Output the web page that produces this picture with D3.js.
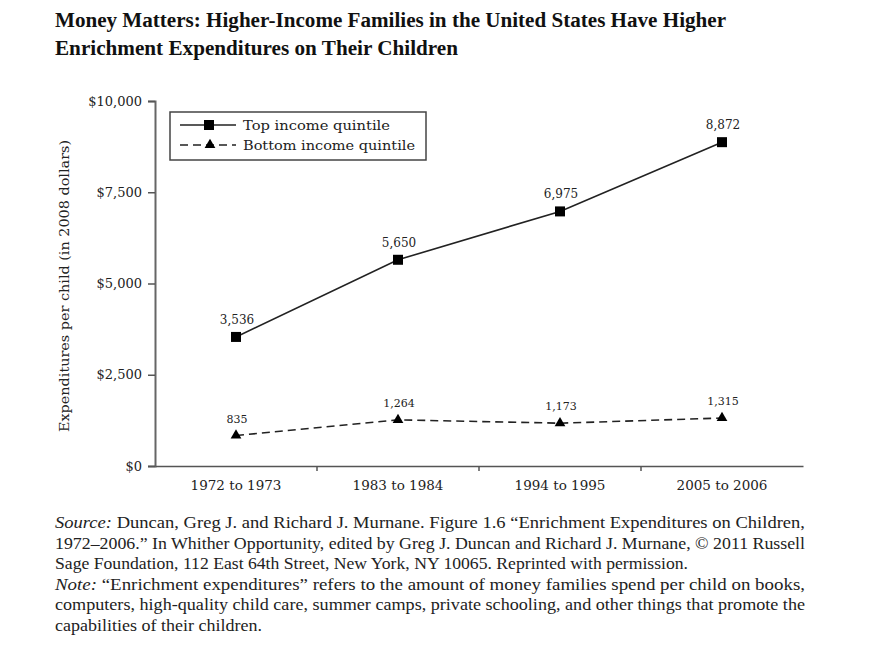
<!DOCTYPE html>
<html><head><meta charset="utf-8">
<script src="https://cdn.jsdelivr.net/npm/d3@7"></script>
<style>
body{margin:0;background:#fff;}
</style></head>
<body><svg id="c" width="891" height="658" font-family="DejaVu Serif" fill="#222"></svg>
<script>
const categories = ["1972 to 1973","1983 to 1984","1994 to 1995","2005 to 2006"];
const topQuintile = [3536, 5650, 6975, 8872];
const bottomQuintile = [835, 1264, 1173, 1315];
const yTicks = [0, 2500, 5000, 7500, 10000];
const seriesNames = ["Top income quintile","Bottom income quintile"];
const titleLines = ["Money Matters: Higher-Income Families in the United States Have Higher",
  "Enrichment Expenditures on Their Children"];

const svg = d3.select("#c");
const x = d3.scaleBand().domain(categories).range([155, 803]);
const y = d3.scaleLinear().domain([0, 10000]).range([466, 101]);
const fmt = d3.format(",");
const SERIF = "Liberation Serif";

// title
svg.selectAll("text.title").data(titleLines).join("text")
  .attr("class","title").attr("x",55).attr("y",(d,i)=>27+i*28)
  .attr("font-family",SERIF).attr("font-size",20).attr("font-weight","bold").attr("fill","#111")
  .attr("textLength",(d,i)=>i===0?671:403).attr("lengthAdjust","spacingAndGlyphs")
  .text(d=>d);

// y axis
const ya = svg.append("g").attr("transform","translate(155,0)")
  .call(d3.axisLeft(y).tickValues(yTicks).tickSize(7).tickPadding(6).tickFormat(d=>"$"+fmt(d)));
ya.attr("font-family",null).attr("font-size",null);
ya.select(".domain").attr("stroke","#666").attr("stroke-width",2);
ya.selectAll(".tick line").attr("stroke","#555").attr("stroke-width",1.5);
ya.selectAll(".tick text").attr("font-size",13).attr("font-family","DejaVu Serif").attr("fill","#222");

// x axis
const xa = svg.append("g").attr("transform","translate(0,466)")
  .call(d3.axisBottom(x).tickSize(0).tickPadding(14));
xa.attr("font-family",null).attr("font-size",null);
xa.select(".domain").attr("stroke","#555").attr("stroke-width",1.5);
xa.selectAll(".tick text").attr("font-size",13.5).attr("font-family","DejaVu Serif").attr("fill","#222");
svg.append("g").selectAll("line").data(categories.slice(1)).join("line")
  .attr("x1",d=>x(d)).attr("x2",d=>x(d)).attr("y1",466).attr("y2",471)
  .attr("stroke","#555").attr("stroke-width",1.5);

// y label
svg.append("text").attr("transform","translate(69,286) rotate(-90)")
  .attr("text-anchor","middle").attr("font-size",13)
  .attr("textLength",292).attr("lengthAdjust","spacingAndGlyphs")
  .text("Expenditures per child (in 2008 dollars)");

const cx = d => x(d) + x.bandwidth()/2;
const line = d3.line().x(d=>cx(d.c)).y(d=>y(d.v));
const topData = categories.map((c,i)=>({c, v: topQuintile[i]}));
const botData = categories.map((c,i)=>({c, v: bottomQuintile[i]}));

svg.append("path").datum(topData).attr("d",line).attr("fill","none").attr("stroke","#222").attr("stroke-width",1.6);
svg.append("path").datum(botData).attr("d",line).attr("fill","none").attr("stroke","#222").attr("stroke-width",1.6).attr("stroke-dasharray","8,5");

svg.selectAll("rect.m").data(topData).join("rect").attr("class","m")
  .attr("x",d=>cx(d.c)-5).attr("y",d=>y(d.v)-5).attr("width",10).attr("height",10).attr("fill","#000");
const tri = d3.symbol().type(d3.symbolTriangle).size(50);
svg.selectAll("path.t").data(botData).join("path").attr("class","t")
  .attr("transform",d=>`translate(${cx(d.c)},${y(d.v)})`).attr("d",tri).attr("fill","#000");

svg.selectAll("text.lt").data(topData).join("text").attr("class","lt")
  .attr("x",d=>cx(d.c)+1).attr("y",d=>y(d.v)-13).attr("text-anchor","middle").attr("font-size",12)
  .text(d=>fmt(d.v));
svg.selectAll("text.lb").data(botData).join("text").attr("class","lb")
  .attr("x",d=>cx(d.c)+1).attr("y",d=>y(d.v)-13).attr("text-anchor","middle").attr("font-size",11)
  .text(d=>fmt(d.v));

// legend
const lg = svg.append("g");
lg.append("rect").attr("x",170).attr("y",112).attr("width",256).attr("height",48)
  .attr("fill","#fff").attr("stroke","#444").attr("stroke-width",1.5);
lg.append("line").attr("x1",180).attr("x2",236).attr("y1",125).attr("y2",125).attr("stroke","#222").attr("stroke-width",1.6);
lg.append("rect").attr("x",204).attr("y",120).attr("width",10).attr("height",10).attr("fill","#000");
lg.append("line").attr("x1",180).attr("x2",236).attr("y1",145).attr("y2",145).attr("stroke","#222").attr("stroke-width",1.6).attr("stroke-dasharray","8,5");
lg.append("path").attr("transform","translate(210,145)").attr("d",tri).attr("fill","#000");
lg.selectAll("text").data(seriesNames).join("text").attr("x",243).attr("y",(d,i)=>130+i*20)
  .attr("font-size",13.5).attr("textLength",(d,i)=>i===0?147:172).attr("lengthAdjust","spacingAndGlyphs")
  .text(d=>d);

// source & note
const notes = [
  {parts:[["Source:",true],[" Duncan, Greg J. and Richard J. Murnane. Figure 1.6 \u201cEnrichment Expenditures on Children,",false]], w:750},
  {parts:[["1972\u20132006.\u201d In Whither Opportunity, edited by Greg J. Duncan and Richard J. Murnane, \u00a9 2011 Russell",false]], w:750},
  {parts:[["Sage Foundation, 112 East 64th Street, New York, NY 10065. Reprinted with permission.",false]], w:633},
  {parts:[["Note:",true],[" \u201cEnrichment expenditures\u201d refers to the amount of money families spend per child on books,",false]], w:750},
  {parts:[["computers, high-quality child care, summer camps, private schooling, and other things that promote the",false]], w:750},
  {parts:[["capabilities of their children.",false]], w:207}
];
notes.forEach((n,i)=>{
  const t = svg.append("text").attr("x",55).attr("y",528+i*20.6).attr("font-size",16.5)
    .attr("font-family",SERIF).attr("fill","#222")
    .attr("textLength",n.w).attr("lengthAdjust","spacingAndGlyphs");
  n.parts.forEach(p=>t.append("tspan").attr("font-style",p[1]?"italic":null).text(p[0]));
});
</script></body></html>
